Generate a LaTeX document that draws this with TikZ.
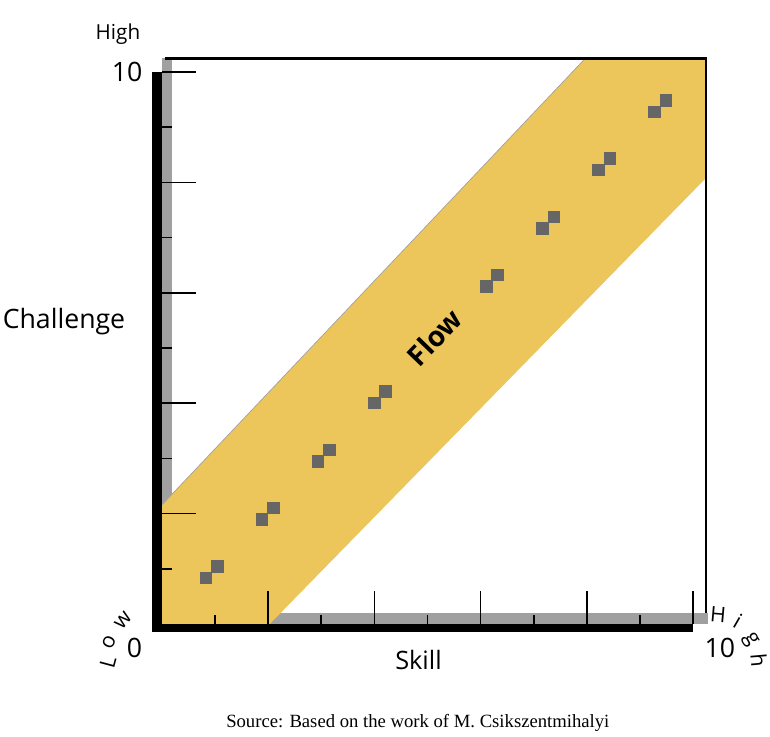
\documentclass[tikz,border=0pt]{standalone}
\usepackage{fontspec}
\setmainfont{Open Sans}
\newfontfamily\sourcefont{Liberation Serif}
\definecolor{flowyellow}{RGB}{236,198,90}
\definecolor{shadowgray}{RGB}{160,160,160}
\definecolor{pipgray}{RGB}{102,102,102}

\begin{document}
\begin{tikzpicture}[x=39.825pt, y=41.4pt,
    longtick/.style={line width=1.3pt},
    shorttick/.style={line width=1.3pt},
    pipa/.style={fill=pipgray, inner sep=0pt, minimum size=9.4pt, xshift=-4.3pt, yshift=-4.3pt},
    pipb/.style={fill=pipgray, inner sep=0pt, minimum size=9.4pt, xshift=4.3pt, yshift=4.3pt},
    axislabel/.style={font=\fontsize{20}{24}\selectfont, inner sep=0pt},
    letter/.style={font=\fontsize{16}{19}\selectfont, inner sep=0pt}]
    \useasboundingbox (-3.051,-2.047) rectangle (11.450,11.304);

    % Shadow of the box
    \fill[shadowgray] (0,0) rectangle (0.19,10.25);
    \fill[shadowgray] (0,0) rectangle (10.28,0.2);

    % Flow channel
    \fill[flowyellow] (0,0) -- (0,2.16) -- (7.97,10.245) -- (10.245,10.245)
        -- (10.245,8.08) -- (2.03,0) -- cycle;
    \draw[shadowgray, line width=0.5pt] (0,2.16) -- (7.97,10.245);

    % Box
    \draw[line width=2pt] (0.06,10.245) -- (10.245,10.245) -- (10.245,0.2);

    % Axes
    \fill (-0.19,-0.145) rectangle (0,10);
    \fill (-0.19,-0.145) rectangle (10,0);

    % Challenge ticks
    \draw[shorttick] (0,1) -- (0.19,1);
    \draw[longtick] (0,2) -- (0.64,2);
    \draw[shorttick] (0,3) -- (0.19,3);
    \draw[longtick] (0,4) -- (0.64,4);
    \draw[shorttick] (0,5) -- (0.19,5);
    \draw[longtick] (0,6) -- (0.64,6);
    \draw[shorttick] (0,7) -- (0.19,7);
    \draw[longtick] (0,8) -- (0.64,8);
    \draw[shorttick] (0,9) -- (0.19,9);
    \draw[longtick] (0,10) -- (0.64,10);

    % Skill ticks
    \draw[shorttick] (1,0) -- (1,0.16);
    \draw[longtick] (2,0) -- (2,0.6);
    \draw[shorttick] (3,0) -- (3,0.16);
    \draw[longtick] (4,0) -- (4,0.6);
    \draw[shorttick] (5,0) -- (5,0.16);
    \draw[longtick] (6,0) -- (6,0.6);
    \draw[shorttick] (7,0) -- (7,0.16);
    \draw[longtick] (8,0) -- (8,0.6);
    \draw[shorttick] (9,0) -- (9,0.16);
    \draw[longtick] (10,0) -- (10,0.6);

    % Steps along the channel
    \node[pipa] (p1a) at (0.94,0.94) {};
    \node[pipb] (p1b) at (0.94,0.94) {};
    \node[pipa] (p2a) at (1.995,1.995) {};
    \node[pipb] (p2b) at (1.995,1.995) {};
    \node[pipa] (p3a) at (3.05,3.05) {};
    \node[pipb] (p3b) at (3.05,3.05) {};
    \node[pipa] (p4a) at (4.105,4.105) {};
    \node[pipb] (p4b) at (4.105,4.105) {};
    \node[pipa] (p6a) at (6.215,6.215) {};
    \node[pipb] (p6b) at (6.215,6.215) {};
    \node[pipa] (p7a) at (7.27,7.27) {};
    \node[pipb] (p7b) at (7.27,7.27) {};
    \node[pipa] (p8a) at (8.325,8.325) {};
    \node[pipb] (p8b) at (8.325,8.325) {};
    \node[pipa] (p9a) at (9.38,9.38) {};
    \node[pipb] (p9b) at (9.38,9.38) {};

    % Channel label
    \node[rotate=46, inner sep=0pt, font=\bfseries\fontsize{21}{24}\selectfont] (flow) at (5.13,5.19) {Flow};

    % Axis labels
    \node[axislabel, font=\fontsize{15.5}{18}\selectfont, anchor=base] (highc) at (-0.829,10.58) {High};
    \node[axislabel] (tenc) at (-0.659,10.0) {10};
    \node[axislabel, anchor=base] (challenge) at (-1.846,5.344) {Challenge};
    \node[axislabel, font=\fontsize{19}{22}\selectfont, anchor=base] (skill) at (4.83,-0.833) {Skill};
    \node[axislabel] (zero) at (-0.518,-0.426) {0};
    \node[axislabel] (tens) at (10.508,-0.426) {10};

    % Low, bent round the origin
    \node[letter, rotate=75] (lowl) at (-1.017,-0.688) {L};
    \node[letter, rotate=65] (lowo) at (-0.998,-0.326) {o};
    \node[letter, rotate=50] (loww) at (-0.734,0.072) {w};

    % High, bent round the end of the skill axis
    \node[letter, rotate=-5] (highh) at (10.471,0.163) {H};
    \node[letter, rotate=-30] (highi) at (10.847,0.054) {i};
    \node[letter, rotate=-60] (highg) at (11.073,-0.29) {g};
    \node[letter, rotate=-85] (highhh) at (11.243,-0.652) {h};

    % Source
    \node[anchor=base west, inner sep=0pt, font=\sourcefont\fontsize{14}{17}\selectfont] (source)
        at (1.205,-1.884) {Source: Based on the work of M. Csikszentmihalyi};
\end{tikzpicture}
\end{document}
